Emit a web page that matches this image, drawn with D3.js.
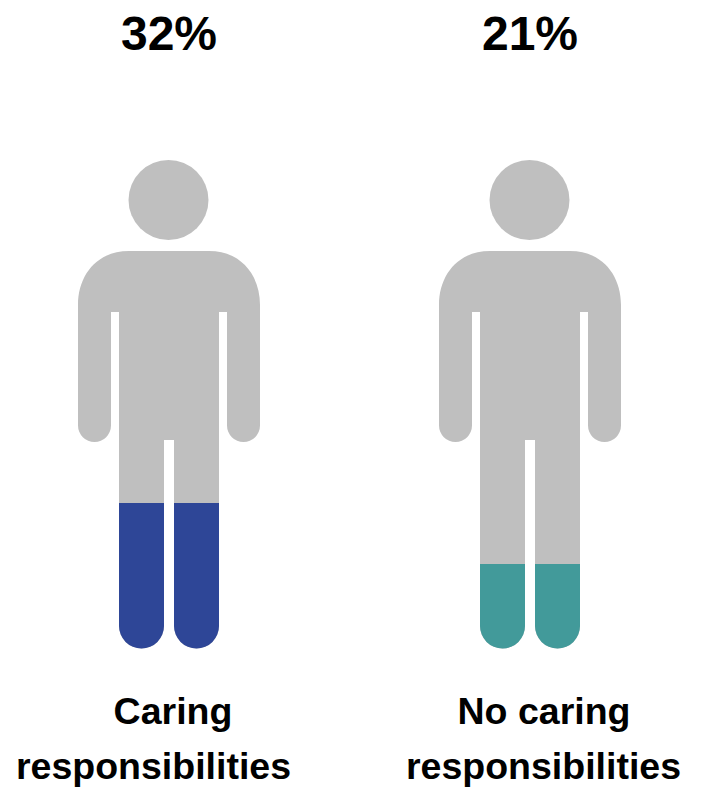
<!DOCTYPE html>
<html><head><meta charset="utf-8">
<script src="https://cdn.jsdelivr.net/npm/d3@7/dist/d3.min.js"></script>
<style>html,body{margin:0;padding:0;background:#fff}svg{display:block}text{font-family:"Liberation Sans",Arial,sans-serif;font-weight:bold;fill:#000;text-anchor:middle}</style>
</head><body><script>
const categories = ["Caring responsibilities", "No caring responsibilities"];
const labelLines = [["Caring", "responsibilities"], ["No caring", "responsibilities"]];
const values = [32, 21];
const valueLabels = ["32%", "21%"];
const colors = ["#2e4697", "#429a9a"];

const W = 703, H = 787;
const svg = d3.select("body").append("svg").attr("width", W).attr("height", H);
const x = d3.scalePoint().domain(categories).range([169, 530]);
// Pictogram fill level: the reference's fill heights are not proportional, so anchor to its levels.
const y = d3.scaleLinear().domain([0, 21, 32]).range([648, 564, 503]);

const p = d3.path();
function person(c) {
  const q = d3.path();
  // body
  q.moveTo(c - 40, 251);
  q.lineTo(c + 40, 251);
  q.bezierCurveTo(c + 72, 251, c + 91, 275, c + 91, 305);
  q.lineTo(c + 91, 424);
  q.arc(c + 74.5, 425.5, 16.5, 0, Math.PI);
  q.lineTo(c + 58, 312);
  q.lineTo(c + 50, 312);
  q.lineTo(c + 50, 610);
  q.arc(c + 27.5, 626, 22.5, 0, Math.PI * 0.5);
  q.arc(c + 27.5, 626, 22.5, Math.PI * 0.5, Math.PI);
  q.lineTo(c + 5, 440);
  q.lineTo(c - 5, 440);
  q.lineTo(c - 5, 626);
  q.arc(c - 27.5, 626, 22.5, 0, Math.PI);
  q.lineTo(c - 50, 312);
  q.lineTo(c - 58, 312);
  q.lineTo(c - 58, 425.5);
  q.arc(c - 74.5, 425.5, 16.5, 0, Math.PI);
  q.lineTo(c - 91, 305);
  q.bezierCurveTo(c - 91, 275, c - 72, 251, c - 40, 251);
  q.closePath();
  return q.toString();
}

const defs = svg.append("defs");
const g = svg.selectAll("g.fig").data(categories).join("g").attr("class", "fig");
g.each(function (cat, i) {
  const c = x(cat), sel = d3.select(this), d = person(c);
  defs.append("clipPath").attr("id", "clip" + i).append("rect")
    .attr("x", c - 100).attr("width", 200)
    .attr("y", y(values[i])).attr("height", y(0) - y(values[i]) + 2);
  sel.append("circle").attr("cx", c - 0.5).attr("cy", 200).attr("r", 40).attr("fill", "#bfbfbf");
  sel.append("path").attr("d", d).attr("fill", "#bfbfbf");
  sel.append("path").attr("d", d).attr("fill", colors[i]).attr("clip-path", `url(#clip${i})`);
  sel.append("text").attr("x", c).attr("y", 50).attr("font-size", 48).text(valueLabels[i]);
  labelLines[i].forEach((t, k) => sel.append("text").attr("x", c + (k ? -15.5 + i * 29 : 4 + i * 10)).attr("y", k ? 779 : 724).attr("font-size", 37.5).text(t));
});
</script></body></html>
